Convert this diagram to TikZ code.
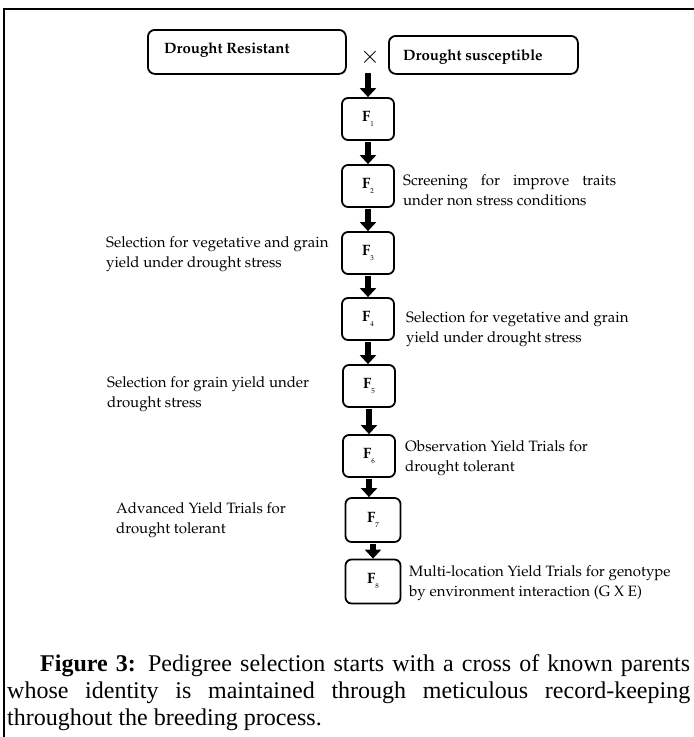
\documentclass[tikz,border=0pt]{standalone}
\usepackage[T1]{fontenc}
\usepackage{fontspec}
\usetikzlibrary{arrows.meta}
\newfontfamily\capfont{Liberation Serif}
\newcommand\palfont{\fontencoding{T1}\fontfamily{ppl}\selectfont}
\newcommand\Fl[1]{{\palfont\bfseries\fontsize{15}{15}\selectfont F}\raisebox{-5pt}{\palfont\fontsize{7}{7}\selectfont #1}}
\begin{document}
\begin{tikzpicture}[x=1pt,y=-1pt,
  fbox/.style={draw, line width=1.8pt, rounded corners=6pt, minimum width=52pt, minimum height=42pt, inner sep=0pt},
  pbox/.style={draw, line width=1.8pt, rounded corners=7pt, inner sep=0pt, anchor=north west},
  flow/.style={line width=6.5pt, -{Triangle[width=16pt,length=9pt]}, shorten <=1pt},
  note/.style={font=\palfont\fontsize{15}{20.5}\selectfont, align=left, inner sep=0pt, anchor=west},
  ptext/.style={font=\palfont\bfseries\fontsize{15}{18}\selectfont, inner sep=0pt, anchor=west},
  capline/.style={font=\capfont\fontsize{24}{27}\selectfont, inner sep=0pt, anchor=base west}
]
\useasboundingbox (0,0) rectangle (694,737);
\fill[white] (0,0) rectangle (694,737);
% frame
\coordinate (tl) at (4,9);
\coordinate (tr) at (694,9);
\coordinate (bl) at (4,737);
\draw[line width=2pt] (tr) -- (tl) -- (bl);
% parents
\node[pbox, minimum width=198pt, minimum height=44pt] (dr) at (147,29) {};
\node[ptext] (drt) at (164,50) {Drought Resistant};
\node[pbox, minimum width=189pt, minimum height=38pt] (ds) at (388,35) {};
\node[ptext] (dst) at (403,57) {Drought susceptible};
\node (cross) at (370,57) {\fontsize{24}{24}\selectfont$\times$};
% generations
\node[fbox] (f1) at (368,119) {\Fl{1}};
\node[fbox] (f2) at (368,186) {\Fl{2}};
\node[fbox] (f3) at (368,253) {\Fl{3}};
\node[fbox] (f4) at (368,319) {\Fl{4}};
\node[fbox] (f5) at (369,386) {\Fl{5}};
\node[fbox] (f6) at (369,456) {\Fl{6}};
\node[fbox, minimum width=55pt, minimum height=44pt] (f7) at (373,520) {\Fl{7}};
\node[fbox, minimum width=55pt, minimum height=44pt] (f8) at (373,581.5) {\Fl{8}};
% arrows
\coordinate (a0) at (368,72);
\draw[flow] (a0) -- (f1.north);
\draw[flow] (f1.south) -- (f2.north);
\draw[flow] (f2.south) -- (f3.north);
\draw[flow] (f3.south) -- (f4.north);
\draw[flow] (f4.south) -- (f4.south |- f5.north);
\draw[flow] (f5.south) -- (f6.north);
\draw[flow] (f6.south) -- (f6.south |- f7.north);
\draw[flow] (f7.south) -- (f8.north);
% notes
\node[note] (t2) at (403,190) {\makebox[213pt][s]{Screening for improve traits}\\under non stress conditions};
\node[note] (t3) at (106,254) {Selection for vegetative and grain\\yield under drought stress};
\node[note] (t4) at (406,329) {Selection for vegetative and grain\\yield under drought stress};
\node[note] (t5) at (107,394) {Selection for grain yield under\\drought stress};
\node[note] (t6) at (405,458) {Observation Yield Trials for\\drought tolerant};
\node[note] (t7) at (116,520) {Advanced Yield Trials for\\drought tolerant};
\node[note] (t8) at (409,583) {Multi-location Yield Trials for genotype\\by environment interaction (G X E)};
% caption
\node[capline] (c1) at (7,671) {\makebox[683pt][s]{\hspace*{33pt}\textbf{Figure 3:} Pedigree selection starts with a cross of known parents}};
\node[capline] (c2) at (7,698) {\makebox[683pt][s]{whose identity is maintained through meticulous record-keeping}};
\node[capline] (c3) at (7,725) {throughout the breeding process.};
\end{tikzpicture}
\end{document}
